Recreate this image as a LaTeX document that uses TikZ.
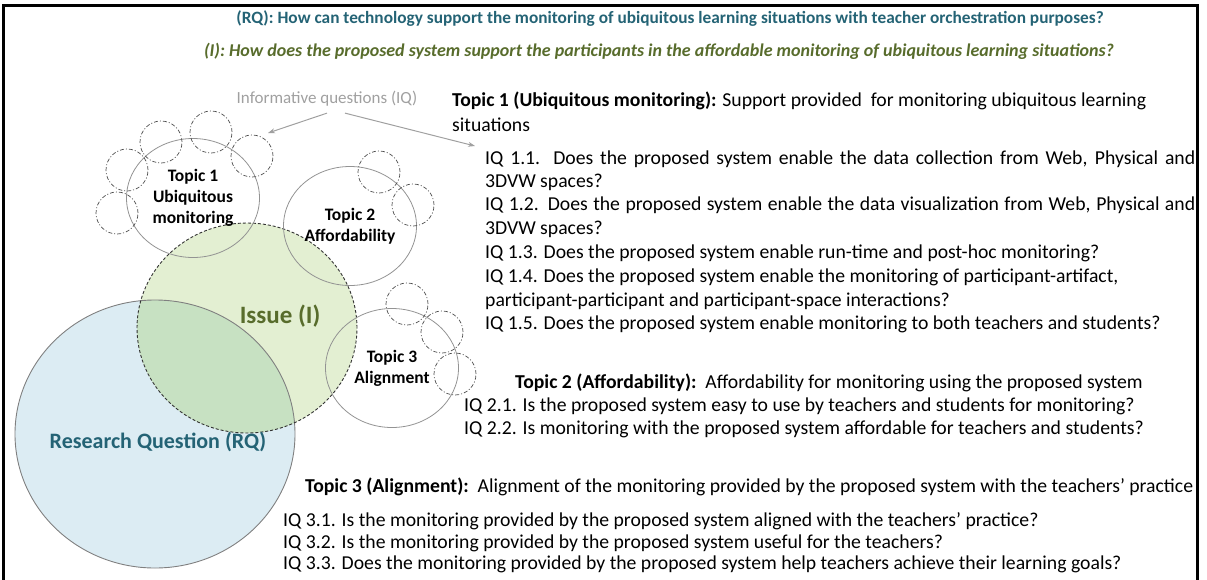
\documentclass[tikz,border=0pt]{standalone}
\usepackage{fontspec}
\setmainfont{Carlito}
\usetikzlibrary{arrows.meta,shapes.geometric}
\definecolor{rqteal}{RGB}{36,99,117}
\definecolor{issueolive}{RGB}{88,108,44}
\definecolor{rqfill}{RGB}{220,236,243}
\definecolor{issuefill}{RGB}{227,239,210}
\definecolor{bothfill}{RGB}{199,225,194}
\definecolor{iqgray}{RGB}{160,160,160}

\begin{document}
\begin{tikzpicture}[x=1pt, y=-1pt,
    iqline/.style={anchor=base west, inner sep=0pt, font=\fontsize{19.7}{23}\selectfont},
    topicball/.style={ellipse, draw=gray!85, line width=.8pt, minimum width=133pt, minimum height=119pt, inner sep=0pt, align=center, font=\bfseries\fontsize{17.5}{21}\selectfont},
    iqball/.style={circle, draw=black!70, line width=.7pt, dash pattern=on 4pt off 2pt on 1pt off 2pt, minimum size=42pt, inner sep=0pt},
    iqarrow/.style={draw=iqgray, line width=1pt, -{Stealth[length=7pt, width=5pt]}}]
    \useasboundingbox (0,0) rectangle (1207,579);
    \clip (0,0) rectangle (1207,579);

    \fill[rqfill] (155,434) ellipse [x radius=140pt, y radius=134pt];
    \fill[issuefill] (247,328) ellipse [x radius=110pt, y radius=105pt];
    \begin{scope}
        \clip (155,434) ellipse [x radius=140pt, y radius=134pt];
        \fill[bothfill] (247,328) ellipse [x radius=110pt, y radius=105pt];
    \end{scope}
    \draw[gray, line width=.9pt] (155,434) ellipse [x radius=140pt, y radius=134pt];
    \draw[black!80, line width=.9pt, dash pattern=on 3pt off 2pt] (247,328) ellipse [x radius=110pt, y radius=105pt];

    \node[font=\bfseries\fontsize{25}{30}\selectfont, text=issueolive] (issue) at (280,316) {Issue (I)};
    \node[font=\bfseries\fontsize{22}{26}\selectfont, text=rqteal] (rq) at (158,442) {Research Question (RQ)};

    \node[topicball] (topic_1) at (193,198) {Topic 1\\Ubiquitous\\monitoring};
    \node[topicball] (topic_2) at (350,226) {Topic 2\\Affordability};
    \node[topicball] (topic_3) at (392,368) {Topic 3\\Alignment};

    \node[iqball] (q_1a) at (127,170) {};
    \node[iqball] (q_1b) at (117,213) {};
    \node[iqball] (q_1c) at (161,142) {};
    \node[iqball] (q_1d) at (211,132) {};
    \node[iqball] (q_1e) at (252,156) {};
    \node[iqball] (q_2a) at (379,172) {};
    \node[iqball] (q_2b) at (413,205) {};
    \node[iqball] (q_3a) at (407,304) {};
    \node[iqball] (q_3b) at (442,332) {};
    \node[iqball] (q_3c) at (455,374) {};

    \node[font=\fontsize{17}{20}\selectfont, text=iqgray] (iq_label) at (327,99) {Informative questions (IQ)};
    \coordinate (iq_to_topics) at (268,133);
    \coordinate (iq_to_list) at (475,146);
    \draw[iqarrow] ([yshift=-3pt]iq_label.south) -- (iq_to_topics);
    \draw[iqarrow] ([xshift=18pt, yshift=-3pt]iq_label.south) -- (iq_to_list);

    \node[font=\bfseries\fontsize{17.3}{20}\selectfont, text=rqteal] (rq_title) at (670,19) {(RQ): How can technology support the monitoring of ubiquitous learning situations with teacher orchestration purposes?};
    \node[font=\bfseries\itshape\fontsize{18}{21}\selectfont, text=issueolive] (i_title) at (659,51) {(I): How does the proposed system support the participants in the affordable monitoring of ubiquitous learning situations?};

    \node[iqline] (topic_1_head) at (452,106) {\textbf{Topic 1 (Ubiquitous monitoring):} Support provided\ \ for monitoring ubiquitous learning};
    \node[iqline] (topic_1_tail) at (452,131) {situations};
    \node[iqline] (iq_1_1) at (485,164) {\makebox[710pt][s]{IQ 1.1. Does the proposed system enable the data collection from Web, Physical and}};
    \node[iqline] (iq_1_1b) at (485,187) {3DVW spaces?};
    \node[iqline] (iq_1_2) at (485,210) {\makebox[710pt][s]{IQ 1.2. Does the proposed system enable the data visualization from Web, Physical and}};
    \node[iqline] (iq_1_2b) at (485,234) {3DVW spaces?};
    \node[iqline] (iq_1_3) at (485,258) {IQ 1.3. Does the proposed system enable run-time and post-hoc monitoring?};
    \node[iqline] (iq_1_4) at (485,282) {IQ 1.4. Does the proposed system enable the monitoring of participant-artifact,};
    \node[iqline] (iq_1_4b) at (485,306) {participant-participant and participant-space interactions?};
    \node[iqline] (iq_1_5) at (485,329) {IQ 1.5. Does the proposed system enable monitoring to both teachers and students?};

    \node[iqline] (topic_2_head) at (515,388) {\textbf{Topic 2 (Affordability):}\ \ Affordability for monitoring using the proposed system};
    \node[iqline] (iq_2_1) at (464,411) {IQ 2.1. Is the proposed system easy to use by teachers and students for monitoring?};
    \node[iqline] (iq_2_2) at (464,434) {IQ 2.2. Is monitoring with the proposed system affordable for teachers and students?};

    \node[iqline] (topic_3_head) at (305,492) {\textbf{Topic 3 (Alignment):}\ \ Alignment of the monitoring provided by the proposed system with the teachers’ practice};
    \node[iqline] (iq_3_1) at (283,526) {IQ 3.1. Is the monitoring provided by the proposed system aligned with the teachers’ practice?};
    \node[iqline] (iq_3_2) at (283,548) {IQ 3.2. Is the monitoring provided by the proposed system useful for the teachers?};
    \node[iqline] (iq_3_3) at (283,569) {IQ 3.3. Does the monitoring provided by the proposed system help teachers achieve their learning goals?};

    \draw[line width=3pt] (3.5,5) rectangle (1197.5,620);
\end{tikzpicture}
\end{document}
